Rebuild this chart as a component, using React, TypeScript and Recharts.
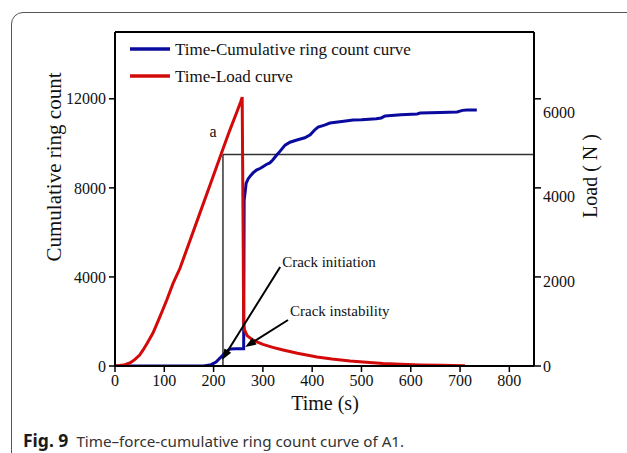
import React from 'react';
import { ComposedChart, Line, XAxis, YAxis, ReferenceLine } from 'recharts';

// ---------- data ----------
const timeTicks = [0, 100, 200, 300, 400, 500, 600, 700, 800];
const countTicks = [0, 4000, 8000, 12000];
const loadTicks = [0, 2000, 4000, 6000];

const ringTime = [0, 100, 180, 195, 205, 213, 219, 226, 233, 245, 255, 261, 262, 264, 266, 270, 275, 280, 287, 295, 300, 307, 314, 320, 328, 335, 345, 355, 369, 385, 396, 405, 412, 425, 436, 460, 483, 500, 530, 540, 548, 580, 613, 619, 660, 694, 705, 714, 734];
const ringCount = [0, 0, 0, 60, 180, 360, 490, 640, 760, 770, 780, 780, 7450, 7800, 8200, 8400, 8550, 8670, 8800, 8880, 8950, 9050, 9120, 9250, 9475, 9650, 9920, 10050, 10150, 10250, 10380, 10600, 10730, 10820, 10910, 10980, 11050, 11060, 11100, 11140, 11230, 11280, 11320, 11360, 11390, 11410, 11480, 11500, 11500];

const loadTime = [0, 10, 20, 30, 40, 50, 57, 65, 77, 91, 105, 118, 132, 150, 172, 195, 219, 233, 247, 255, 258, 260, 261, 263, 268, 280, 288, 300, 320, 341, 370, 410, 440, 477, 510, 544, 580, 620, 660, 710];
const loadValue = [0, 10, 30, 70, 150, 260, 380, 530, 780, 1160, 1560, 1960, 2318, 2900, 3610, 4350, 5130, 5580, 6000, 6250, 6360, 3000, 1000, 850, 720, 610, 570, 510, 440, 380, 300, 215, 165, 120, 90, 60, 40, 25, 15, 8];

const rectTime = 219;
const rectLoad = 5000;
const timeMax = 850;
const countMax = 15000;
const loadMax = 7900;

const ringData = ringTime.map((t, i) => ({ time: t, count: ringCount[i] }));
const loadData = loadTime.map((t, i) => ({ time: t, load: loadValue[i] }));

// right frame carries tick marks at the left-axis (count) positions, labels at load positions
const mirroredCountTicks = countTicks.map((v) => (v / countMax) * loadMax);
const rightAxisTicks = [...loadTicks, ...mirroredCountTicks.filter((v) => !loadTicks.includes(v))];

// annotation anchors (data coords, count axis)
const initiation = { from: { x: 335, y: 4446 }, to: { x: 217, y: 270 }, text: 'Crack initiation' };
const instability = { from: { x: 351, y: 2066 }, to: { x: 264, y: 853 }, text: 'Crack instability' };

const SERIF = '"Liberation Serif", "Times New Roman", serif';
const BLUE = '#0a0a9e';
const RED = '#d20a0a';

const arrowShape = (label: string, tdx: number, tdy: number) => (p: any) => {
  const { x1, y1, x2, y2 } = p;
  const ang = Math.atan2(y2 - y1, x2 - x1);
  const L = 11;
  const W = 4;
  const bx = x2 - L * Math.cos(ang);
  const by = y2 - L * Math.sin(ang);
  const px = -Math.sin(ang) * W;
  const py = Math.cos(ang) * W;
  return (
    <g>
      <line x1={x1} y1={y1} x2={bx} y2={by} stroke="#000" strokeWidth={2} />
      <polygon points={`${x2},${y2} ${bx + px},${by + py} ${bx - px},${by - py}`} fill="#000" />
      <text x={x1 + tdx} y={y1 + tdy} fontFamily={SERIF} fontSize={15} fill="#111">{label}</text>
    </g>
  );
};

const vertShape = (p: any) => {
  const { x1, y1, x2, y2 } = p;
  const top = Math.min(y1, y2);
  return (
    <g>
      <line x1={x1} y1={y1} x2={x2} y2={y2} stroke="#333" strokeWidth={1.5} />
      <text x={x1 - 10} y={top - 18} fontFamily={SERIF} fontSize={16} fill="#111" textAnchor="middle">a</text>
    </g>
  );
};

const RightTick = (p: any) => {
  const { x, y, payload } = p;
  const v = payload.value;
  const isLabel = loadTicks.includes(v);
  const isMark = mirroredCountTicks.some((m) => Math.abs(m - v) < 1e-6);
  return (
    <g>
      {isMark && <line x1={x - 9} y1={y} x2={x - 2} y2={y} stroke="#000" strokeWidth={1.5} />}
      {isLabel && (
        <text x={x} y={y} dy="0.35em" fontFamily={SERIF} fontSize={16} fill="#111" textAnchor="start">{v}</text>
      )}
    </g>
  );
};

export default function App() {
  return (
    <div style={{ position: 'absolute', left: 0, top: 0, width: 627, height: 453, overflow: 'hidden', background: '#fff' }}>
      <div style={{ position: 'absolute', left: 11, top: 12, width: 660, height: 480, border: '1.3px solid #555', borderRadius: 12, boxSizing: 'border-box' }} />
      <div style={{ position: 'absolute', left: 0, top: 0 }}>
        <ComposedChart width={627} height={453} margin={{ top: 32, right: 0, bottom: 0, left: 0 }}>
          <XAxis
            dataKey="time"
            type="number"
            domain={[0, timeMax]}
            ticks={timeTicks}
            allowDataOverflow
            height={87}
            tickSize={6}
            tickMargin={3}
            axisLine={{ stroke: '#000', strokeWidth: 2 }}
            tickLine={{ stroke: '#000', strokeWidth: 1.5 }}
            tick={{ fontFamily: SERIF, fontSize: 16, fill: '#111' }}
          />
          <YAxis
            yAxisId="count"
            orientation="left"
            type="number"
            domain={[0, countMax]}
            ticks={countTicks}
            allowDataOverflow
            width={115}
            tickSize={6}
            tickMargin={3}
            axisLine={{ stroke: '#000', strokeWidth: 2 }}
            tickLine={{ stroke: '#000', strokeWidth: 1.5 }}
            tick={{ fontFamily: SERIF, fontSize: 16, fill: '#111' }}
          />
          <YAxis
            yAxisId="load"
            orientation="right"
            type="number"
            domain={[0, loadMax]}
            ticks={rightAxisTicks}
            interval={0}
            allowDataOverflow
            width={93}
            tickSize={7}
            tickMargin={2}
            axisLine={{ stroke: '#000', strokeWidth: 2 }}
            tickLine={false}
            tick={RightTick}
          />
          <ReferenceLine yAxisId="count" y={countMax} stroke="#000" strokeWidth={2} />
          <ReferenceLine
            yAxisId="load"
            segment={[{ x: rectTime, y: 0 }, { x: rectTime, y: rectLoad }]}
            shape={vertShape}
          />
          <ReferenceLine
            yAxisId="load"
            segment={[{ x: rectTime, y: rectLoad }, { x: timeMax, y: rectLoad }]}
            stroke="#333"
            strokeWidth={1.5}
          />
          <Line
            data={ringData}
            dataKey="count"
            yAxisId="count"
            type="linear"
            stroke={BLUE}
            strokeWidth={3}
            dot={false}
            isAnimationActive={false}
          />
          <Line
            data={loadData}
            dataKey="load"
            yAxisId="load"
            type="linear"
            stroke={RED}
            strokeWidth={3}
            dot={false}
            isAnimationActive={false}
          />
          <ReferenceLine
            yAxisId="count"
            segment={[initiation.from, initiation.to]}
            shape={arrowShape(initiation.text, 2, 0)}
          />
          <ReferenceLine
            yAxisId="count"
            segment={[instability.from, instability.to]}
            shape={arrowShape(instability.text, 2, -4)}
          />
        </ComposedChart>
      </div>
      <svg width={627} height={453} style={{ position: 'absolute', left: 0, top: 0, pointerEvents: 'none' }}>
        <line x1={130} y1={49} x2={170} y2={49} stroke={BLUE} strokeWidth={3.5} />
        <text x={175} y={55} fontFamily={SERIF} fontSize={17} fill="#111">Time-Cumulative ring count curve</text>
        <line x1={130} y1={76} x2={170} y2={76} stroke={RED} strokeWidth={3.5} />
        <text x={175} y={82} fontFamily={SERIF} fontSize={17} fill="#111">Time-Load curve</text>
        <text x={54} y={167} fontFamily={SERIF} fontSize={21} fill="#111" textAnchor="middle" dominantBaseline="central" transform="rotate(-90 54 167)">Cumulative ring count</text>
        <text x={590} y={176} fontFamily={SERIF} fontSize={20} fill="#111" textAnchor="middle" dominantBaseline="central" transform="rotate(-90 590 176)">Load ( N )</text>
        <text x={325} y={403} fontFamily={SERIF} fontSize={20} fill="#111" textAnchor="middle" dominantBaseline="central">Time (s)</text>
      </svg>
      <div style={{ position: 'absolute', left: 23, top: 429, lineHeight: '22px', fontFamily: '"Noto Sans", sans-serif', color: '#333', whiteSpace: 'nowrap' }}>
        <span style={{ fontWeight: 700, fontSize: 17.5, color: '#1a1a1a' }}>Fig. 9</span>
        <span style={{ marginLeft: 8, fontSize: 15.2 }}>Time–force-cumulative ring count curve of A1.</span>
      </div>
    </div>
  );
}
